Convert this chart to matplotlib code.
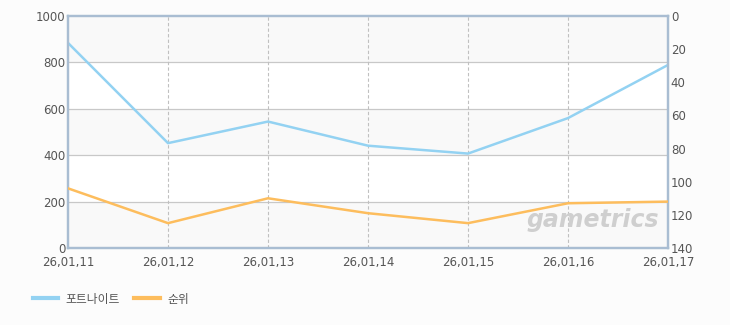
import matplotlib.pyplot as plt

dates = ["26,01,11", "26,01,12", "26,01,13", "26,01,14", "26,01,15", "26,01,16", "26,01,17"]
fortnite = [884, 452, 545, 441, 407, 560, 789]
rank = [104, 125, 110, 119, 125, 113, 112]

plt.rcParams['font.family'] = ['DejaVu Sans', 'Noto Sans CJK KR']

BLUE = "#93d2f2"
ORANGE = "#fdbd5d"
FRAME = "#a9bdd2"
TXT = "#555555"


def main():
    fig = plt.figure(figsize=(7.3, 3.25), dpi=100, facecolor="#fcfcfc")
    ax = fig.add_axes([68 / 730, 1 - 248 / 325, 600 / 730, 232 / 325])
    ax.set_facecolor("white")
    x = list(range(len(dates)))

    # alternating bands
    for lo in (0, 400, 800):
        ax.axhspan(lo, lo + 200, color="#f9f9f9", zorder=0, lw=0)
    for y in (200, 400, 600, 800):
        ax.axhline(y, color="#c8c8c8", lw=0.9, zorder=1)
    for xi in x[1:-1]:
        ax.axvline(xi, color="#c0c0c0", lw=0.8, ls=(0, (3, 2)), zorder=1)

    ax.plot(x, fortnite, color=BLUE, lw=1.8, zorder=3)
    ax.set_xlim(0, len(dates) - 1)
    ax.set_ylim(0, 1000)
    ax.set_yticks(range(0, 1001, 200))
    ax.set_xticks(x)
    ax.set_xticklabels(dates)

    ax2 = ax.twinx()
    ax2.plot(x, rank, color=ORANGE, lw=1.8, zorder=3)
    ax2.set_ylim(140, 0)
    ax2.set_yticks(range(0, 141, 20))

    for a in (ax, ax2):
        for s in a.spines.values():
            s.set_color(FRAME)
            s.set_linewidth(1.6)
        a.tick_params(length=0, labelsize=8.5, labelcolor=TXT, pad=2)
    ax.tick_params(axis="x", pad=6)

    ax.text(0.985, 0.07, "gametrics", transform=ax.transAxes, ha="right", va="bottom",
            fontsize=17, fontstyle="italic", fontweight="bold", color="#cfcfcf", zorder=2)

    h1, = ax.plot([], [], color=BLUE, lw=3)
    h2, = ax.plot([], [], color=ORANGE, lw=3)
    fig.legend([h1, h2], ["포트나이트", "순위"], loc="center left",
               bbox_to_anchor=(0.03, 1 - 299 / 325), ncol=2, frameon=False,
               fontsize=8.5, labelcolor=TXT, handlelength=2.2, columnspacing=1.2,
               handletextpad=0.6)

    fig.savefig("out.png", dpi=100, facecolor=fig.get_facecolor())


if __name__ == "__main__":
    main()
